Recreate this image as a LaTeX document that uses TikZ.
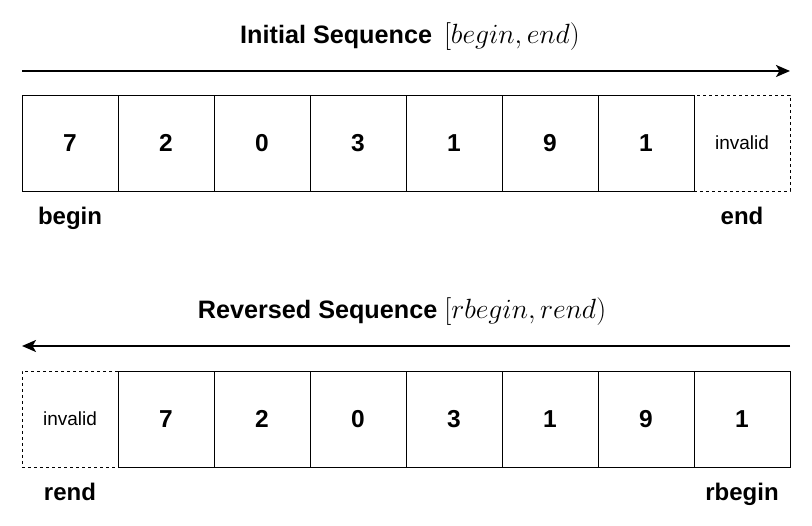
\documentclass[tikz,border=0pt]{standalone}
\usepackage{fix-cm}
\usepackage[no-math]{fontspec}
\setmainfont{Liberation Sans}
\usetikzlibrary{matrix,positioning,arrows.meta}
\tikzstyle{cellrow} = [matrix of nodes,ampersand replacement=\&,column sep=-0.8pt,nodes={
    draw,line width=0.8pt,outer sep=0pt,minimum width=96pt,minimum height=96pt,inner sep=0pt,text centered,
    anchor=center,font=\fontsize{24.5}{28}\selectfont\bfseries
}]
\tikzstyle{invalid} = [dashed,font=\fontsize{19}{23}\selectfont]
\tikzstyle{pointer} = [font=\fontsize{24}{28}\selectfont\bfseries]
\tikzstyle{title} = [font=\fontsize{25.2}{30}\selectfont\bfseries]
\tikzstyle{seqarrow} = [line width=2pt,-{Stealth[length=14pt,width=12pt,inset=3.5pt]}]
\newcommand{\seqmath}[1]{{\fontsize{27.8}{33}\selectfont$#1$}}

\begin{document}
\begin{tikzpicture}[x=1pt,y=-1pt]
	\useasboundingbox (0,0) rectangle (812,526);
	
	% initial sequence
	\node(title1) at (410,37) [title] {Initial Sequence\hspace{12pt}\seqmath{[begin, end)}};
	\coordinate(from1) at (22,71);
	\coordinate(to1) at (790,71);
	\draw[seqarrow] (from1) -- (to1);
	
	\node(initial) at (406,143) [cellrow] {7 \& 2 \& 0 \& 3 \& 1 \& 9 \& 1 \& |[invalid]| invalid \\};
	\node(begin) [pointer, below=13pt of initial-1-1.south] {begin};
	\node(end) [pointer, below=13pt of initial-1-8.south] {end};
	
	% reversed sequence
	\node(title2) at (402,312) [title] {Reversed Sequence\hspace{7pt}\seqmath{[rbegin, rend)}};
	\coordinate(from2) at (790,346);
	\coordinate(to2) at (22,346);
	\draw[seqarrow] (from2) -- (to2);
	
	\node(reversed) at (406,419) [cellrow] {|[invalid]| invalid \& 7 \& 2 \& 0 \& 3 \& 1 \& 9 \& 1 \\};
	\node(rend) [pointer, below=13pt of reversed-1-1.south] {rend};
	\node(rbegin) [pointer, below=13pt of reversed-1-8.south] {rbegin};
\end{tikzpicture}
\end{document}
